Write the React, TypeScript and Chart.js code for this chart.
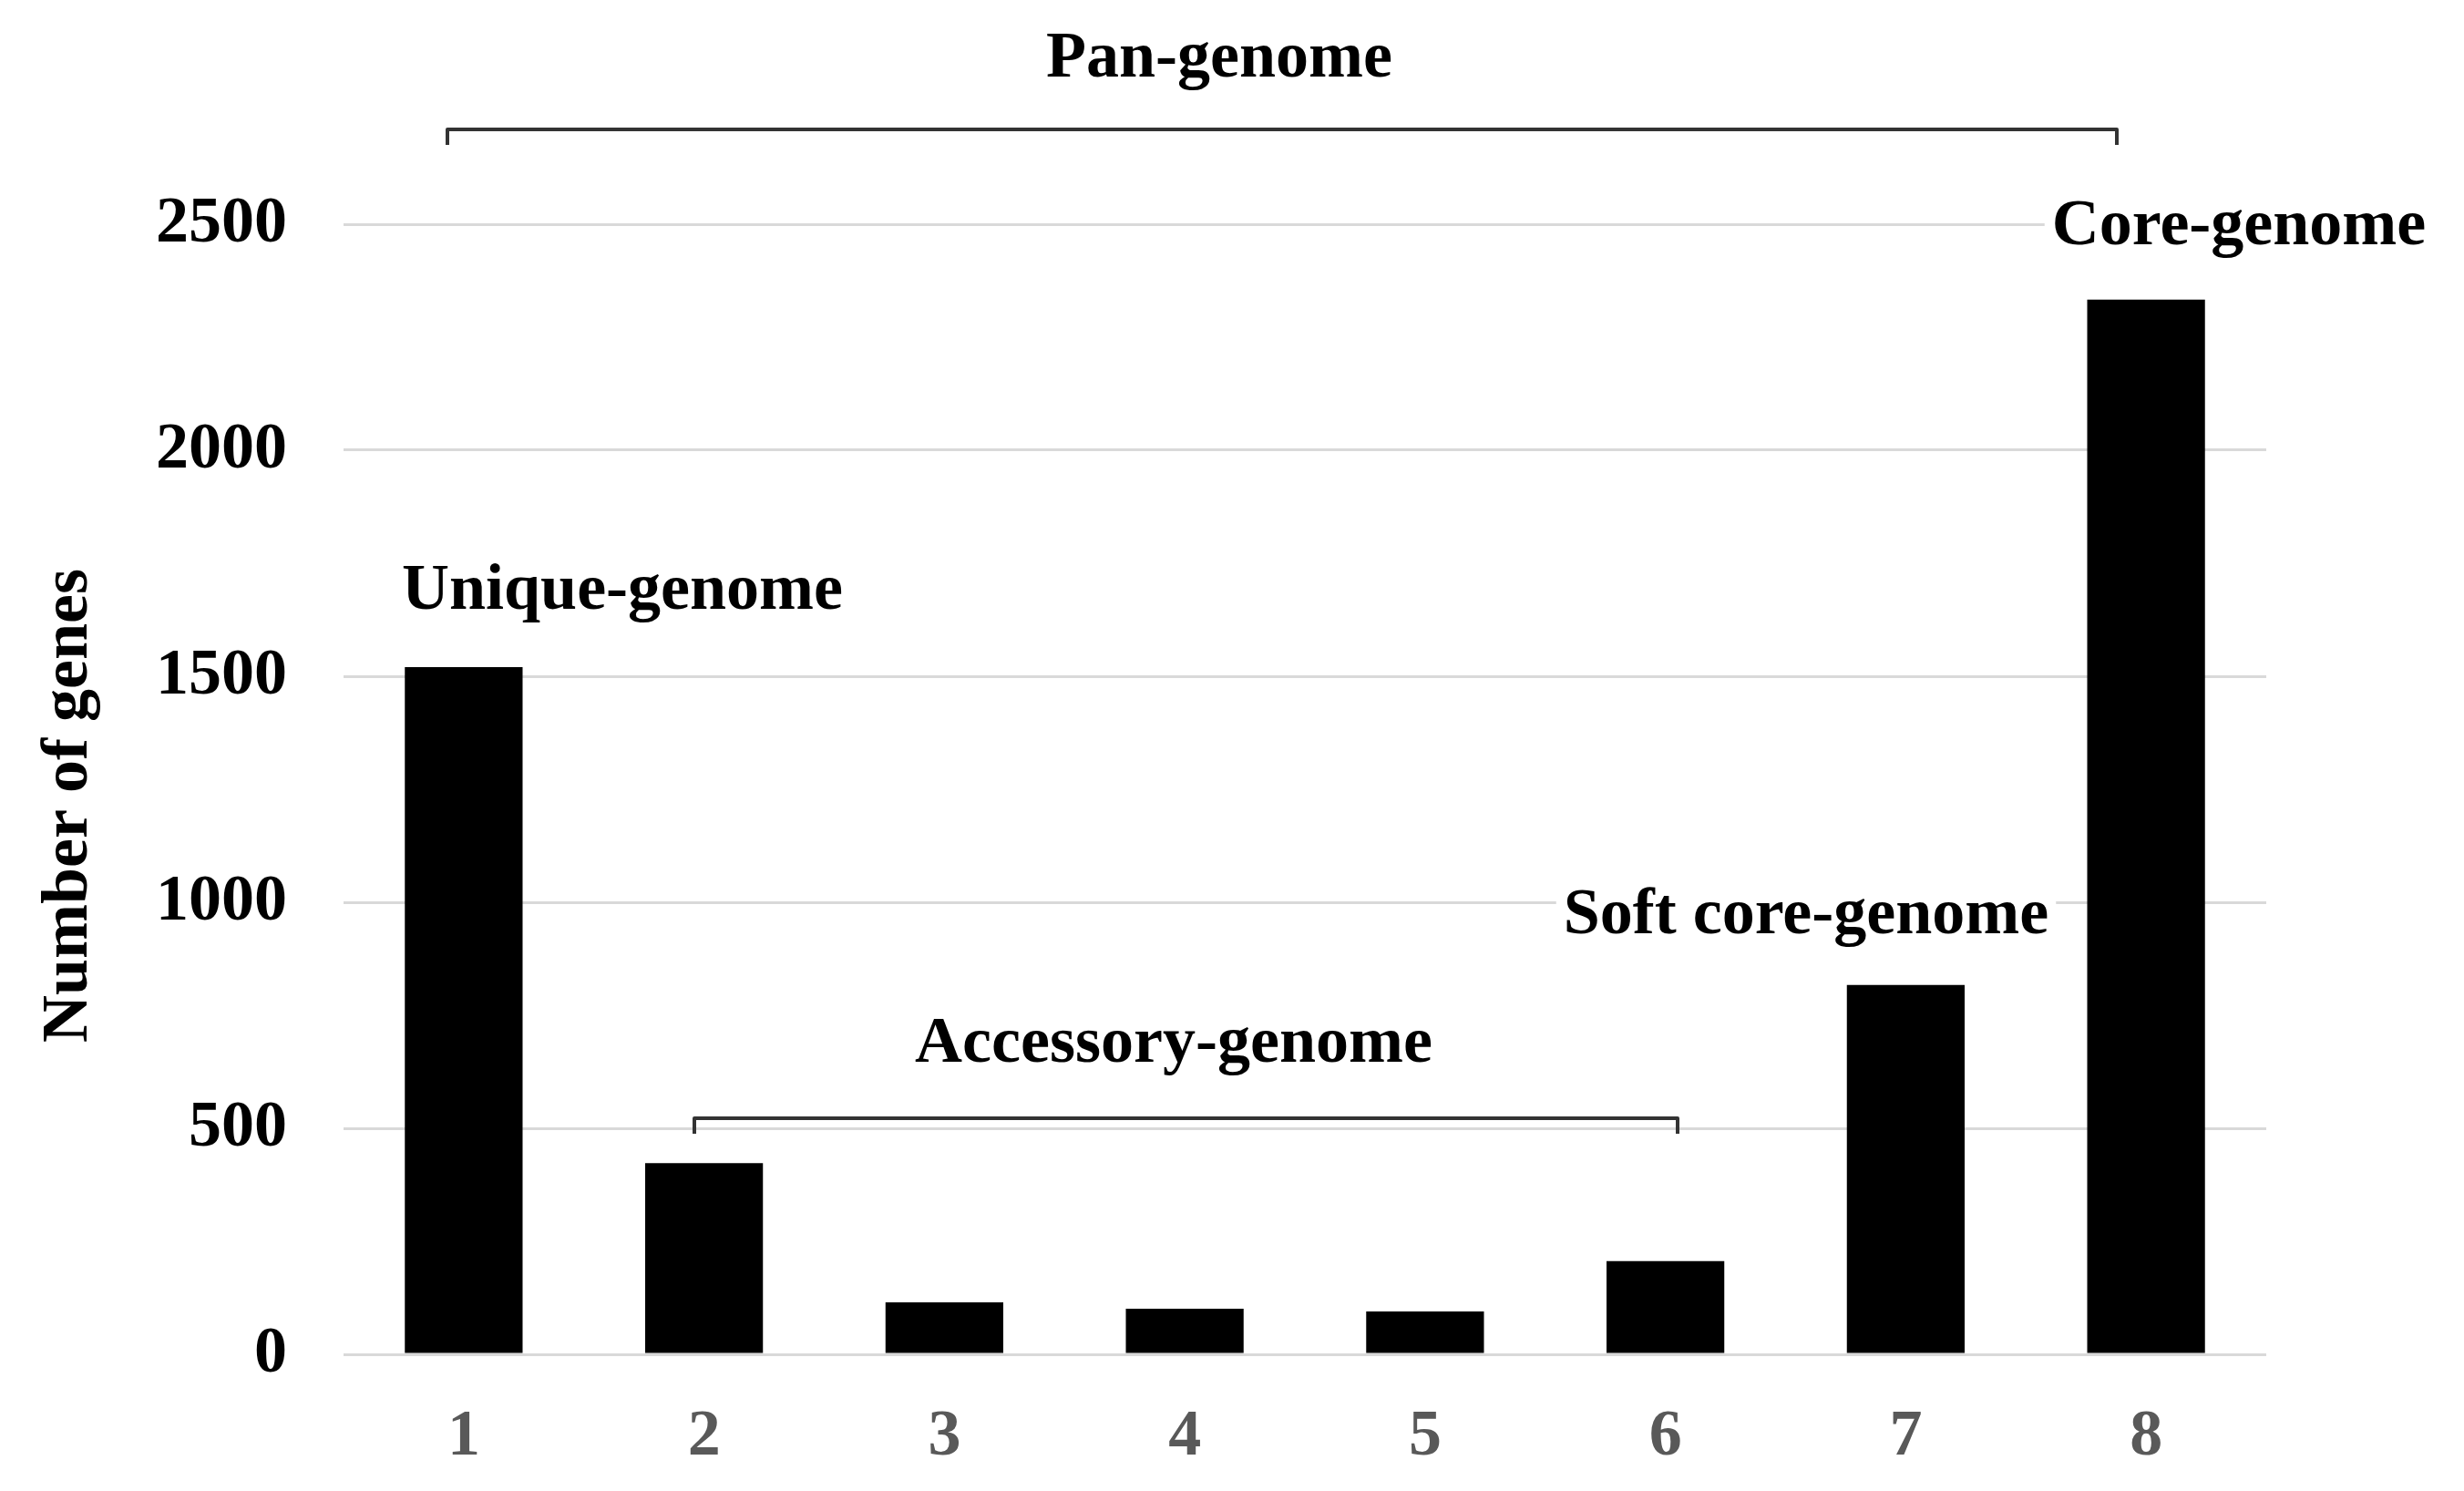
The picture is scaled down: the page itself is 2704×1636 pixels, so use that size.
import React, { useEffect, useRef } from 'react';
import { Chart, registerables } from 'chart.js';

Chart.register(...registerables);

const categories = ['1', '2', '3', '4', '5', '6', '7', '8'];
const geneCounts = [1520, 423, 115, 101, 95, 206, 817, 2333];
const yTickValues = [0, 500, 1000, 1500, 2000, 2500];
const yAxisTitle = 'Number of genes';
const groupLabels = ['Pan-genome', 'Unique-genome', 'Accessory-genome', 'Soft core-genome', 'Core-genome'];

const FAMILY = '"Liberation Serif", "Times New Roman", serif';

const annotationPlugin = {
  id: 'genomeAnnotations',
  afterDraw(chart: any) {
    const ctx = chart.ctx as CanvasRenderingContext2D;
    ctx.save();
    ctx.font = `bold 72px ${FAMILY}`;
    ctx.textAlign = 'center';
    ctx.textBaseline = 'alphabetic';

    const texts: [string, number, number][] = [
      [groupLabels[0], 1338, 84],
      [groupLabels[1], 683, 668],
      [groupLabels[2], 1288, 1165],
      [groupLabels[3], 1982, 1024],
      [groupLabels[4], 2457, 268],
    ];
    for (const [t, x, y] of texts) {
      const w = ctx.measureText(t).width;
      ctx.fillStyle = '#ffffff';
      ctx.fillRect(x - w / 2 - 8, y - 56, w + 16, 76);
      ctx.fillStyle = '#000000';
      ctx.fillText(t, x, y);
    }

    // brackets
    ctx.strokeStyle = '#333333';
    ctx.lineWidth = 4;
    ctx.lineJoin = 'round';
    const brackets: [number, number, number, number][] = [
      [491, 2323, 142, 159],
      [762, 1841, 1227, 1244],
    ];
    for (const [x1, x2, y, yEnd] of brackets) {
      ctx.beginPath();
      ctx.moveTo(x1, yEnd);
      ctx.lineTo(x1, y);
      ctx.lineTo(x2, y);
      ctx.lineTo(x2, yEnd);
      ctx.stroke();
    }

    // y-axis title
    ctx.save();
    ctx.translate(76, 884);
    ctx.rotate(-Math.PI / 2);
    ctx.textBaseline = 'middle';
    ctx.fillStyle = '#000000';
    ctx.fillText(yAxisTitle, 0, 0);
    ctx.restore();

    ctx.restore();
  },
};

export default function App() {
  const canvasRef = useRef<HTMLCanvasElement | null>(null);

  useEffect(() => {
    document.body.style.margin = '0';
    const canvas = canvasRef.current;
    if (!canvas) return;
    const chart = new Chart(canvas, {
      type: 'bar',
      data: {
        labels: categories,
        datasets: [
          {
            data: geneCounts,
            backgroundColor: '#000000',
            borderWidth: 0,
            barPercentage: 0.49,
            categoryPercentage: 1,
          },
        ],
      },
      options: {
        responsive: false,
        animation: false,
        devicePixelRatio: 1,
        layout: { padding: { top: 246, right: 217, bottom: 0, left: 0 } },
        plugins: {
          legend: { display: false },
          tooltip: { enabled: false },
          title: { display: false },
        },
        scales: {
          x: {
            grid: { display: false, drawTicks: false },
            border: { display: false },
            ticks: {
              color: '#595959',
              font: { family: FAMILY, weight: 'bold', size: 72 },
              padding: 48,
            },
            afterFit: (scale: any) => {
              scale.height = 150;
            },
          },
          y: {
            min: 0,
            max: 2500,
            afterBuildTicks: (scale: any) => {
              scale.ticks = yTickValues.map((v) => ({ value: v }));
            },
            grid: { color: '#d9d9d9', lineWidth: 3, drawTicks: false },
            border: { display: false },
            ticks: {
              color: '#000000',
              font: { family: FAMILY, weight: 'bold', size: 72 },
              padding: 62,
              callback: (v: any) => String(v),
            },
            afterFit: (scale: any) => {
              scale.width = 377;
            },
          },
        },
      } as any,
      plugins: [annotationPlugin],
    });
    return () => chart.destroy();
  }, []);

  return (
    <div style={{ position: 'absolute', left: 0, top: 0, width: 2704, height: 1636, background: '#ffffff' }}>
      <canvas ref={canvasRef} width={2704} height={1636} style={{ width: 2704, height: 1636, display: 'block' }} />
    </div>
  );
}
